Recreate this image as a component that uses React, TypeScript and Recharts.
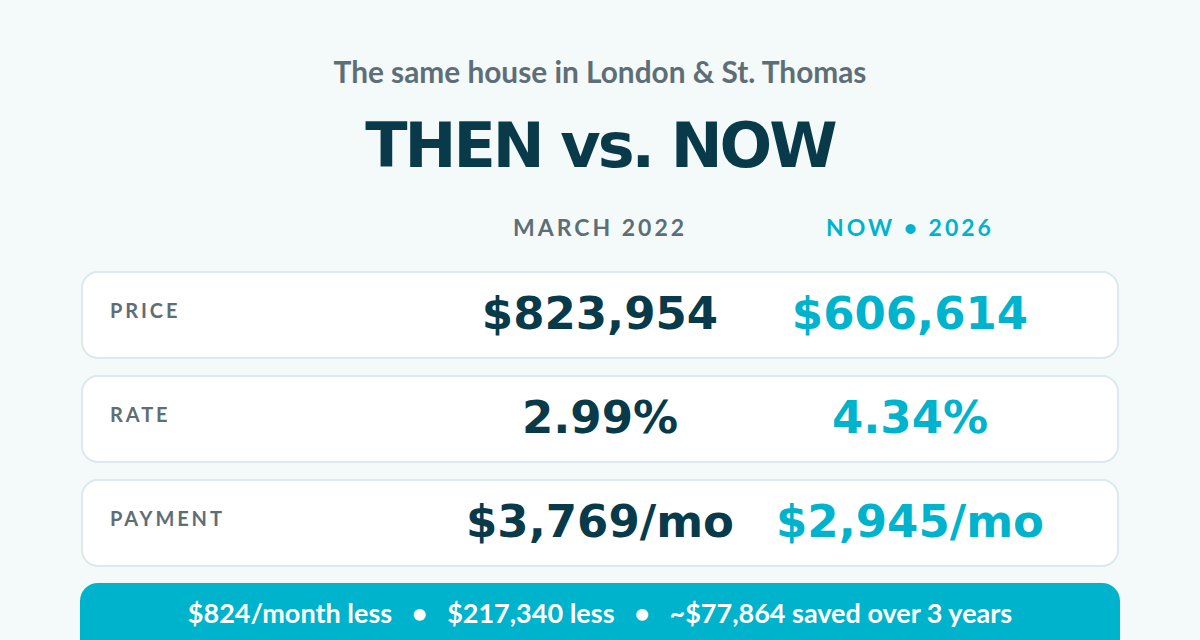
import { BarChart, Bar, XAxis, YAxis } from 'recharts';

// Row labels and the two columns of values
const metrics = ['PRICE', 'RATE', 'PAYMENT'];
const thenValues = ['$823,954', '2.99%', '$3,769/mo'];
const nowValues = ['$606,614', '4.34%', '$2,945/mo'];
const columnHeaders = ['MARCH 2022', 'NOW • 2026'];
const savings = ['$824/month less', '$217,340 less', '~$77,864 saved over 3 years'];

const NAVY = '#083a4a';
const CYAN = '#00b3cc';
const GRAY = '#5e6e76';
const BG = '#f4f9fa';

const LATO = 'Lato, "Noto Sans", sans-serif';
const DEJAVU = '"DejaVu Sans", Verdana, sans-serif';

// column centres for the "then" and "now" values
const THEN_X = 600;
const NOW_X = 910;

const rows = metrics.map((metric, i) => ({
  metric,
  then: thenValues[i],
  now: nowValues[i],
  track: 1,
}));

// White rounded card with label + both values
const RowCard = (props: any) => {
  const { x, y, width, height, payload } = props;
  const cy = y + height / 2;
  return (
    <g>
      <rect
        x={x + 1}
        y={y + 1}
        width={width - 2}
        height={height - 2}
        rx={16}
        ry={16}
        fill="#ffffff"
        stroke="#dde9ee"
        strokeWidth={2}
      />
      <text
        x={x + 29}
        y={cy + 3}
        fontFamily={LATO}
        fontWeight={700}
        fontSize={20}
        letterSpacing={2.9}
        fill={GRAY}
      >
        {payload.metric}
      </text>
      <text
        x={THEN_X}
        y={cy + 14}
        textAnchor="middle"
        fontFamily={DEJAVU}
        fontWeight={700}
        fontSize={45}
        fill={NAVY}
      >
        {payload.then}
      </text>
      <text
        x={NOW_X}
        y={cy + 14}
        textAnchor="middle"
        fontFamily={DEJAVU}
        fontWeight={700}
        fontSize={45}
        fill={CYAN}
      >
        {payload.now}
      </text>
    </g>
  );
};

export default function App() {
  return (
    <div
      style={{
        position: 'absolute',
        left: 0,
        top: 0,
        width: 1200,
        height: 640,
        background: BG,
        overflow: 'hidden',
      }}
    >
      {/* headings and summary banner */}
      <svg width={1200} height={640} style={{ position: 'absolute', left: 0, top: 0 }}>
        <text
          x={600}
          y={83}
          textAnchor="middle"
          fontFamily={LATO}
          fontWeight={700}
          fontSize={29.8}
          fill={GRAY}
        >
          The same house in London &amp; St. Thomas
        </text>
        <text
          x={600}
          y={167}
          textAnchor="middle"
          fontFamily={DEJAVU}
          fontWeight={700}
          fontSize={62}
          letterSpacing={-3}
          fill={NAVY}
        >
          THEN vs. NOW
        </text>
        <text
          x={THEN_X}
          y={236}
          textAnchor="middle"
          fontFamily={LATO}
          fontWeight={700}
          fontSize={23}
          letterSpacing={3}
          fill={GRAY}
        >
          {columnHeaders[0]}
        </text>
        <text
          x={NOW_X}
          y={236}
          textAnchor="middle"
          fontFamily={LATO}
          fontWeight={700}
          fontSize={23}
          letterSpacing={3}
          fill={CYAN}
        >
          {columnHeaders[1]}
        </text>

        <rect x={80} y={583} width={1040} height={90} rx={18} ry={18} fill={CYAN} />
        <text
          x={600}
          y={623}
          textAnchor="middle"
          fontFamily={LATO}
          fontWeight={700}
          fontSize={27}
          fill="#ffffff"
          style={{ whiteSpace: 'pre' }}
        >
          {savings.join('   •   ')}
        </text>
      </svg>

      <div style={{ position: 'absolute', left: 0, top: 0 }}>
        <BarChart
          width={1200}
          height={640}
          data={rows}
          layout="vertical"
          margin={{ top: 263, right: 81, bottom: 65, left: 81 }}
          barCategoryGap={16}
        >
          <XAxis type="number" domain={[0, 1]} hide />
          <YAxis type="category" dataKey="metric" hide />
          <Bar
            dataKey="track"
            barSize={88}
            shape={<RowCard />}
            isAnimationActive={false}
          />
        </BarChart>
      </div>
    </div>
  );
}
